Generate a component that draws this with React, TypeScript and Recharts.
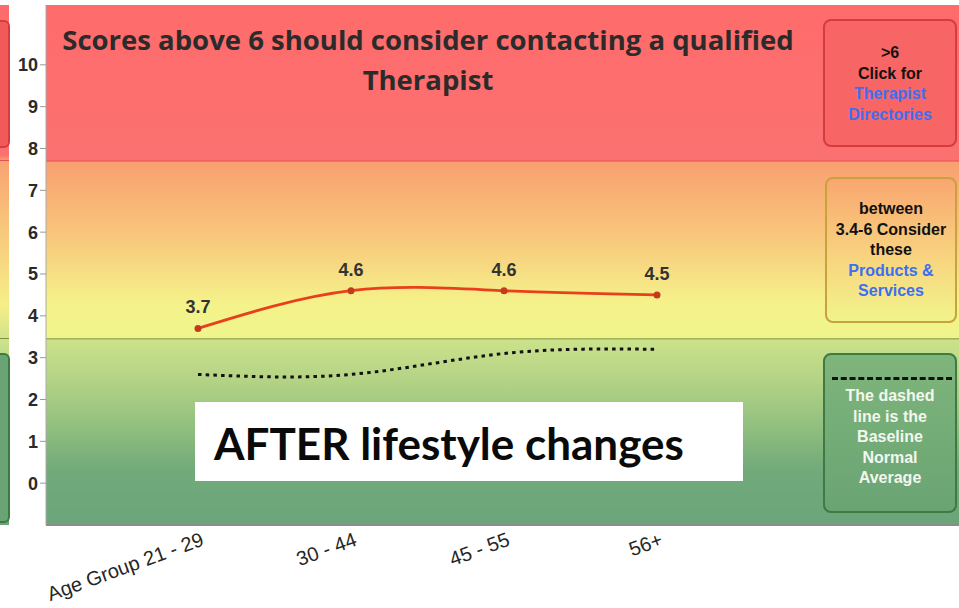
import { LineChart, Line, XAxis, YAxis, CartesianGrid, ReferenceLine, LabelList } from "recharts";

const ageGroups = ["Age Group 21 - 29", "30 - 44", "45 - 55", "56+"];
const afterScores = [3.7, 4.6, 4.6, 4.5];
const baselineAverage = [2.6, 2.6, 3.1, 3.2];
const yTicks = [0, 1, 2, 3, 4, 5, 6, 7, 8, 9, 10];
const yDomain = [-1, 11.43];
const redFrom = 7.7;
const greenTo = 3.45;

const data = ageGroups.map((group, i) => ({
  group,
  after: afterScores[i],
  baseline: baselineAverage[i],
}));

// where the zone borders fall inside the plot, as gradient offsets
const span = yDomain[1] - yDomain[0];
const redStop = ((yDomain[1] - redFrom) / span) * 100;
const greenStop = ((yDomain[1] - greenTo) / span) * 100;
const pct = (a: number, b: number, f: number) => `${a + (b - a) * f}%`;

const AgeTick = (props: any) => {
  const { x, payload } = props;
  const ax = x + 7;
  const ay = 545;
  return (
    <text
      x={ax}
      y={ay}
      textAnchor="end"
      transform={`rotate(-20, ${ax}, ${ay})`}
      fontFamily="Liberation Sans, Arial, sans-serif"
      fontSize={20}
      fill="#262626"
    >
      {payload.value}
    </text>
  );
};

const ScoreLabel = (props: any) => {
  const { x, y, value } = props;
  return (
    <text
      x={x}
      y={y - 15}
      textAnchor="middle"
      fontFamily="Liberation Sans, Arial, sans-serif"
      fontWeight="bold"
      fontSize={18}
      fill="#333"
    >
      {value}
    </text>
  );
};

const boxText: React.CSSProperties = {
  position: "absolute",
  boxSizing: "border-box",
  textAlign: "center",
  fontFamily: "Liberation Sans, Arial, sans-serif",
  fontWeight: "bold",
  fontSize: 16,
  lineHeight: "20.5px",
  borderRadius: 8,
  borderWidth: 2,
  borderStyle: "solid",
};

const blue = "#3d6ff2";

export default function App() {
  return (
    <div style={{ position: "absolute", left: 0, top: 0, width: 959, height: 608, background: "#fff" }}>
      {/* cut-off panel at the far left */}
      <div
        style={{
          position: "absolute",
          left: 0,
          top: 5,
          width: 9,
          height: 520,
          background:
            "linear-gradient(#fd6c6c 0px, #fb7070 150px, #f9a371 156px, #f6ef88 300px, #cde28c 336px, #8dbd7e 410px, #6aa67a 520px)",
        }}
      >
        <div style={{ position: "absolute", left: -8, top: 15, width: 14, height: 124, border: "2px solid #d63c3f", borderRadius: 6, background: "#f25a5a" }} />
        <div style={{ position: "absolute", left: 0, top: 155, width: 9, height: 1, background: "#e0534e" }} />
        <div style={{ position: "absolute", left: 0, top: 333, width: 9, height: 1, background: "#7f8f3a" }} />
        <div style={{ position: "absolute", left: -8, top: 348, width: 14, height: 166, border: "2px solid #3d7a44", borderRadius: 6, background: "#6aa474" }} />
      </div>

      <LineChart width={959} height={608} data={data} margin={{ top: 5, right: 0, bottom: 13, left: 8 }}>
        <defs>
          <linearGradient id="zones" x1="0" y1="0" x2="0" y2="1">
            <stop offset="0%" stopColor="#ff6b6b" />
            <stop offset={`${redStop}%`} stopColor="#fb7171" />
            <stop offset={`${redStop}%`} stopColor="#f9a070" />
            <stop offset={pct(redStop, greenStop, 0.4)} stopColor="#f8c47b" />
            <stop offset={pct(redStop, greenStop, 0.8)} stopColor="#f5f28a" />
            <stop offset={`${greenStop}%`} stopColor="#eef58c" />
            <stop offset={`${greenStop}%`} stopColor="#cde28c" />
            <stop offset={pct(greenStop, 100, 0.25)} stopColor="#b0d184" />
            <stop offset={pct(greenStop, 100, 0.5)} stopColor="#8dbd7e" />
            <stop offset={pct(greenStop, 100, 0.7)} stopColor="#72aa7a" />
            <stop offset="100%" stopColor="#6aa67a" />
          </linearGradient>
        </defs>
        <CartesianGrid horizontal={false} vertical={false} fill="url(#zones)" fillOpacity={1} />
        <ReferenceLine y={redFrom} stroke="#e0534e" strokeWidth={1} />
        <ReferenceLine y={greenTo} stroke="#7f8f3a" strokeWidth={1} />
        <XAxis
          dataKey="group"
          interval={0}
          height={70}
          padding={{ left: 152, right: 302 }}
          tickLine={false}
          axisLine={{ stroke: "#8c8c8c", strokeWidth: 2 }}
          tick={<AgeTick />}
        />
        <YAxis
          width={38}
          domain={yDomain}
          ticks={yTicks}
          type="number"
          allowDataOverflow
          tickSize={6}
          tickMargin={2}
          tickLine={{ stroke: "#999" }}
          axisLine={{ stroke: "#aaa" }}
          tick={{ fontFamily: "Liberation Sans, Arial, sans-serif", fontWeight: "bold", fontSize: 18, fill: "#2a2a2a" }}
        />
        <Line
          type="natural"
          dataKey="baseline"
          stroke="#111"
          strokeWidth={3}
          strokeDasharray="3.5 4.2"
          dot={false}
          activeDot={false}
          isAnimationActive={false}
        />
        <Line
          type="natural"
          dataKey="after"
          stroke="#e8401c"
          strokeWidth={2.8}
          dot={{ r: 3.5, fill: "#c53a1d", stroke: "none" }}
          activeDot={false}
          isAnimationActive={false}
        >
          <LabelList dataKey="after" content={<ScoreLabel />} />
        </Line>
      </LineChart>

      {/* heading */}
      <div
        style={{
          position: "absolute",
          left: 0,
          top: 20,
          width: 856,
          textAlign: "center",
          fontFamily: "Open Sans, sans-serif",
          fontWeight: 700,
          fontSize: 27.5,
          lineHeight: "40px",
          color: "#2b2b2b",
        }}
      >
        Scores above 6 should consider contacting a qualified
        <br />
        Therapist
      </div>

      {/* caption box */}
      <div
        style={{
          position: "absolute",
          left: 195,
          top: 402,
          width: 548,
          height: 79,
          background: "#fff",
          boxSizing: "border-box",
          paddingLeft: 19,
          paddingTop: 3,
          fontFamily: "Lato, sans-serif",
          fontWeight: 700,
          fontSize: 44,
          lineHeight: "76px",
          color: "#0a0a0a",
        }}
      >
        AFTER lifestyle changes
      </div>

      {/* right-hand key boxes */}
      <div style={{ ...boxText, left: 823, top: 19, width: 134, height: 128, borderColor: "#d63c3f", background: "#f86565", paddingTop: 22, color: "#111" }}>
        &gt;6
        <br />
        Click for
        <br />
        <span style={{ color: blue }}>Therapist</span>
        <br />
        <span style={{ color: blue }}>Directories</span>
      </div>
      <div
        style={{
          ...boxText,
          left: 825,
          top: 177,
          width: 132,
          height: 146,
          borderColor: "#c8a23c",
          background: "linear-gradient(#f9a670, #f8d47f 55%, #f1f48b)",
          paddingTop: 20,
          color: "#111",
        }}
      >
        between
        <br />
        3.4-6 Consider
        <br />
        these
        <br />
        <span style={{ color: blue }}>Products &amp;</span>
        <br />
        <span style={{ color: blue }}>Services</span>
      </div>
      <div
        style={{
          ...boxText,
          left: 823,
          top: 353,
          width: 134,
          height: 160,
          borderColor: "#3d7a44",
          background: "linear-gradient(#7fb57b, #6aa474)",
          paddingTop: 31,
          color: "#f3f7ee",
        }}
      >
        <div style={{ position: "absolute", left: 7, right: 3, top: 22, borderTop: "3px dashed #111" }} />
        The dashed
        <br />
        line is the
        <br />
        Baseline
        <br />
        Normal
        <br />
        Average
      </div>
    </div>
  );
}
